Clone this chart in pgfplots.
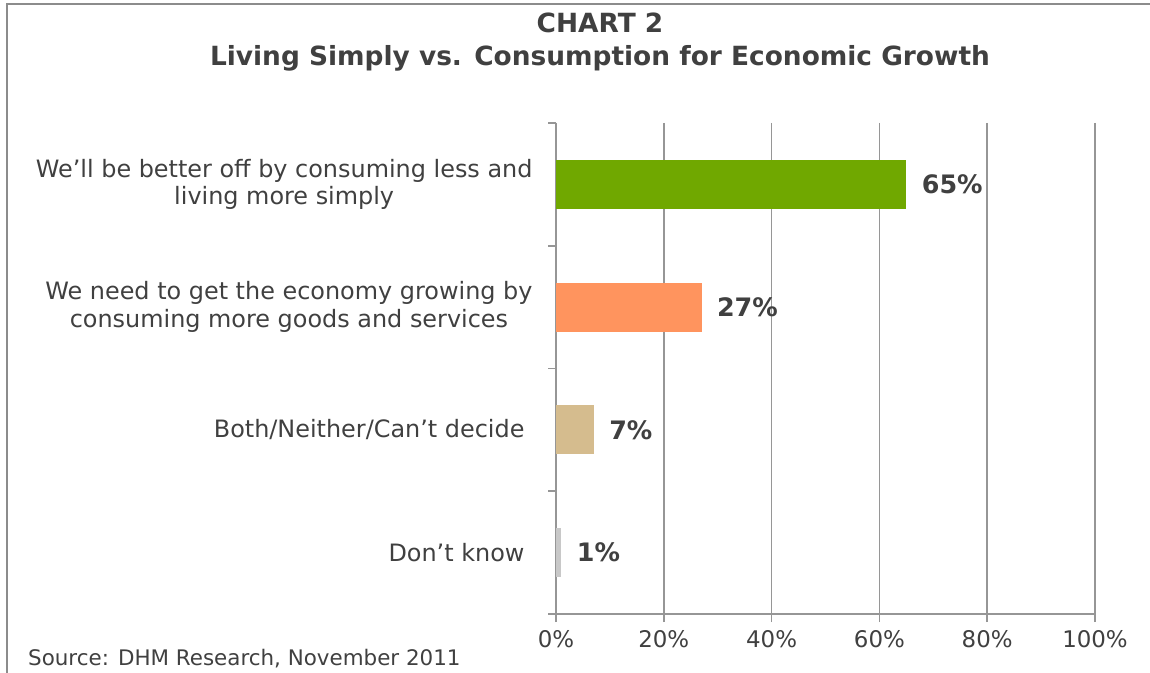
\documentclass[border=0pt]{standalone}
\usepackage{pgfplots}
\pgfplotsset{compat=1.18}
\usepackage{fontspec}
\setmainfont{DejaVu Sans}
\definecolor{txt}{RGB}{64,64,64}
\definecolor{gridc}{RGB}{150,150,150}
\definecolor{framec}{RGB}{140,140,140}
\definecolor{cgreen}{RGB}{112,168,0}
\definecolor{corange}{RGB}{255,148,94}
\definecolor{ctan}{RGB}{213,188,142}
\definecolor{cgrey}{RGB}{200,200,200}
\begin{document}
\begin{tikzpicture}[x=1bp,y=1bp]
\useasboundingbox (0,0) rectangle (1150,673);
\draw[draw=framec, line width=2bp] (7,0) -- (7,669) -- (1150,669);
\node[font=\fontsize{26.5}{30}\selectfont\bfseries, text=txt] at (600,650) {CHART 2};
\node[font=\fontsize{26.5}{30}\selectfont\bfseries, text=txt] at (600,615) {Living Simply vs. Consumption for Economic Growth};
\node[anchor=base west, font=\fontsize{21.5}{24}\selectfont, text=txt, inner sep=0pt] at (28,7) {Source: DHM Research, November 2011};
\begin{axis}[
  at={(556bp,59bp)}, anchor=south west,
  scale only axis, width=539bp, height=491bp,
  /pgf/number format/assume math mode=true,
  xmin=0, xmax=100, ymin=-0.5, ymax=3.5, y dir=reverse,
  axis x line=bottom, axis y line=left,
  axis line style={draw=gridc, line width=1.7bp, -},
  xtick={0,20,...,100},
  xticklabel={\pgfmathprintnumber{\tick}\%},
  xmajorgrids, major grid style={draw=gridc, line width=1.7bp},
  tick align=outside, major tick length=8bp,
  tick style={draw=gridc, line width=1.7bp},
  ytick={-0.5,0.5,1.5,2.5,3.5},
  yticklabels={},
  extra y ticks={0,1,2,3},
  extra y tick labels={{We’ll be better off by consuming less and\\living more simply},
               {We need to get the economy growing by\\consuming more goods and services},
               {Both/Neither/Can’t decide\hspace*{8bp}},
               {Don’t know\hspace*{8bp}}},
  extra y tick style={major tick length=0pt, tick style={draw=none},
    yticklabel style={align=center, font=\fontsize{24}{28}\selectfont, text=txt, xshift=-20bp}},
  xticklabel style={font=\fontsize{23}{25}\selectfont, text=txt, yshift=-5bp},
  xbar, bar width=0.4, bar shift=0pt,
  nodes near coords={\pgfmathprintnumber{\pgfplotspointmeta}\%},
  nodes near coords style={font=\fontsize{25.5}{28}\selectfont\bfseries, text=txt, anchor=west, xshift=12bp},
  point meta=x,
  clip=false,
]
\addplot[fill=cgreen, draw=none] coordinates {(65,0)};
\addplot[fill=corange, draw=none] coordinates {(27,1)};
\addplot[fill=ctan, draw=none] coordinates {(7,2)};
\addplot[fill=cgrey, draw=none] coordinates {(1,3)};
\end{axis}
\end{tikzpicture}
\end{document}
